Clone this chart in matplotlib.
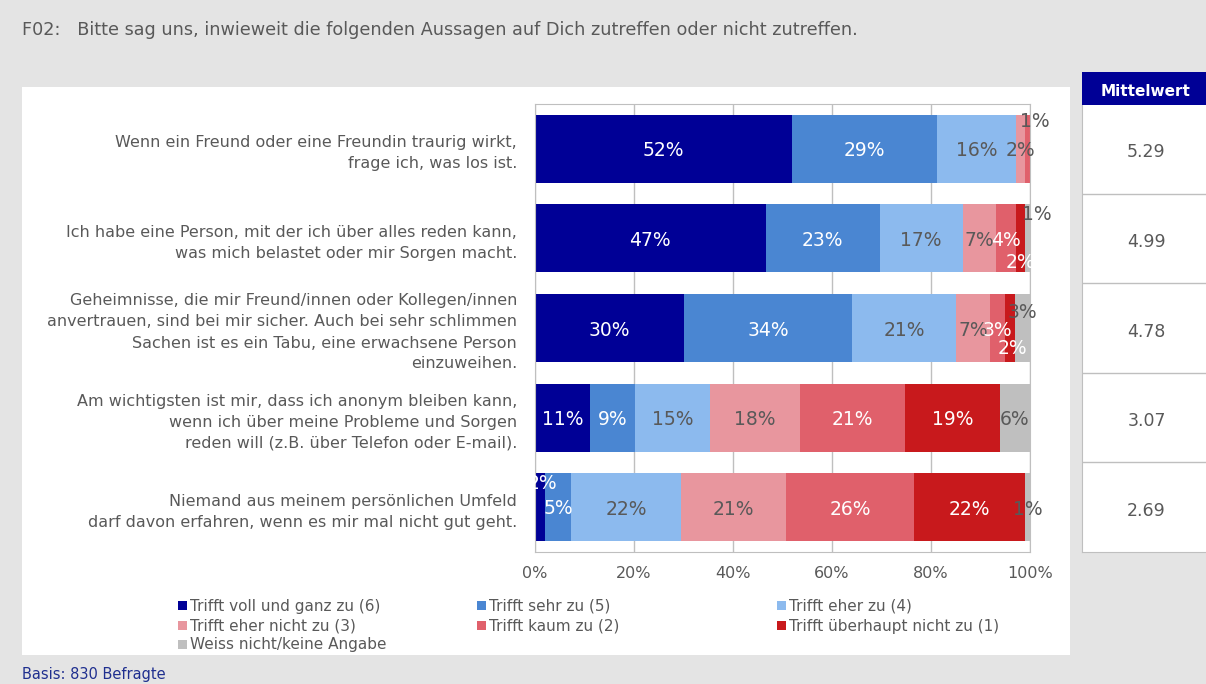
import matplotlib.pyplot as plt
from matplotlib.patches import Rectangle
from matplotlib.transforms import ScaledTranslation

statements = [
    "Wenn ein Freund oder eine Freundin traurig wirkt,\nfrage ich, was los ist.",
    "Ich habe eine Person, mit der ich über alles reden kann,\nwas mich belastet oder mir Sorgen macht.",
    "Geheimnisse, die mir Freund/innen oder Kollegen/innen\nanvertrauen, sind bei mir sicher. Auch bei sehr schlimmen\nSachen ist es ein Tabu, eine erwachsene Person\neinzuweihen.",
    "Am wichtigsten ist mir, dass ich anonym bleiben kann,\nwenn ich über meine Probleme und Sorgen\nreden will (z.B. über Telefon oder E-mail).",
    "Niemand aus meinem persönlichen Umfeld\ndarf davon erfahren, wenn es mir mal nicht gut geht.",
]
answers = ["Trifft voll und ganz zu (6)", "Trifft sehr zu (5)", "Trifft eher zu (4)",
           "Trifft eher nicht zu (3)", "Trifft kaum zu (2)", "Trifft überhaupt nicht zu (1)",
           "Weiss nicht/keine Angabe"]
# percent per statement, one list per answer
voll = [51.9, 46.6, 30.1, 11.1, 2.0]
sehr = [29.3, 23.0, 33.9, 9.1, 5.3]
eher = [16.0, 16.8, 21.1, 15.2, 22.2]
eher_nicht = [1.8, 6.8, 6.8, 18.1, 21.2]
kaum = [1.0, 3.9, 3.0, 21.2, 25.9]
ueberhaupt_nicht = [0.0, 1.8, 2.1, 19.2, 22.4]
weiss_nicht = [0.0, 1.2, 3.0, 6.1, 1.0]
mittelwert = [5.29, 4.99, 4.78, 3.07, 2.69]
ticks = [0, 20, 40, 60, 80, 100]

series = [voll, sehr, eher, eher_nicht, kaum, ueberhaupt_nicht, weiss_nicht]
colors = ["#000096", "#4A86D2", "#8CBAEE", "#E8969E", "#E0606B", "#C8191C", "#BFBFBF"]
grey = "#595959"
txtcol = ["white", "white", grey, grey, "white", "white", grey]

W, H = 1206, 684
fig = plt.figure(figsize=(W / 100, H / 100), dpi=100, facecolor="#e4e4e4")

def fx(px):
    return px / W

def fy(py):
    return 1 - py / H

# white panel
fig.patches.append(Rectangle((fx(22), fy(655)), fx(1070 - 22), (655 - 87) / H,
                             transform=fig.transFigure, facecolor="white", edgecolor="none", zorder=-5))

fig.text(fx(22), fy(30), "F02:   Bitte sag uns, inwieweit die folgenden Aussagen auf Dich zutreffen oder nicht zutreffen.",
         fontsize=12.7, color=grey, va="center", ha="left")
fig.text(fx(22), fy(675), "Basis: 830 Befragte", fontsize=10.5, color="#1F2F8F", va="center", ha="left")

ax = fig.add_axes([fx(535), fy(552), fx(1030 - 535), (552 - 104) / H])
ax.set_facecolor("white")
y = list(range(len(statements)))
left = [0] * len(statements)
# label offsets for small segments (points) and colour overrides
offs = {(0, 4): (5, 20), (1, 5): (0, -17), (1, 6): (6.5, 17.5), (2, 5): (2, -15),
        (2, 6): (0, 11), (4, 0): (2, 17), (4, 1): (0, -1)}
colover = {(0, 4): grey}
for k, vals in enumerate(series):
    ax.barh(y, vals, left=left, height=0.76, color=colors[k], zorder=2)
    for i, v in enumerate(vals):
        if v > 0:
            dx, dy = offs.get((i, k), (0, -1.5))
            ax.annotate(f"{round(v)}%", (left[i] + v / 2, i), xytext=(dx, dy), textcoords="offset points",
                        ha="center", va="center", fontsize=13.5, color=colover.get((i, k), txtcol[k]),
                        zorder=3, annotation_clip=False)
    left = [a + b for a, b in zip(left, vals)]

ax.set_xlim(0, 100)
ax.set_ylim(len(statements) - 0.5, -0.5)
ax.set_xticks(ticks)
ax.set_xticklabels([f"{t}%" for t in ticks], fontsize=11.5, color=grey)
ax.set_yticks(y)
ax.set_yticklabels(statements, fontsize=11.5, color=grey, linespacing=1.5)
shift = ScaledTranslation(0, 3 / 100, fig.dpi_scale_trans)
for lab in ax.get_yticklabels():
    lab.set_transform(lab.get_transform() + shift)
ax.tick_params(axis="both", length=0)
ax.tick_params(axis="x", pad=10)
ax.tick_params(axis="y", pad=13)
ax.grid(axis="x", color="#BFBFBF", linewidth=1, zorder=1)
for s in ax.spines.values():
    s.set_color("#BFBFBF")

# legend, row-wise in three columns
leg_x = [178, 477, 777]
leg_y = [606, 626, 645]
for n, name in enumerate(answers):
    cx = leg_x[n % 3]
    cy = leg_y[n // 3]
    fig.patches.append(Rectangle((fx(cx), fy(cy + 4)), fx(9), 9 / H, transform=fig.transFigure,
                                 facecolor=colors[n], edgecolor="none"))
    fig.text(fx(cx + 12), fy(cy), name, fontsize=11, color=grey, va="center", ha="left")

# Mittelwert table
tab = fig.add_axes([fx(1082), fy(552), fx(1206 - 1082), (552 - 104) / H])
tab.set_facecolor("white")
tab.set_xlim(0, 1)
tab.set_ylim(len(statements) - 0.5, -0.5)
tab.set_xticks([])
tab.set_yticks([])
for s in ["top", "right"]:
    tab.spines[s].set_visible(False)
for s in ["left", "bottom"]:
    tab.spines[s].set_color("#BFBFBF")
for i, m in enumerate(mittelwert):
    tab.text(0.52, i + 0.04, f"{m:.2f}", ha="center", va="center", fontsize=12.5, color=grey)
    if i < len(mittelwert) - 1:
        tab.axhline(i + 0.5, color="#BFBFBF", linewidth=1)

fig.patches.append(Rectangle((fx(1082), fy(105)), fx(1206 - 1082), 33 / H, transform=fig.transFigure,
                             facecolor="#000096", edgecolor="none"))
fig.text(fx(1146), fy(91), "Mittelwert", fontsize=11, color="white", fontweight="bold",
         ha="center", va="center")

fig.savefig("out.png", dpi=100, facecolor=fig.get_facecolor())
